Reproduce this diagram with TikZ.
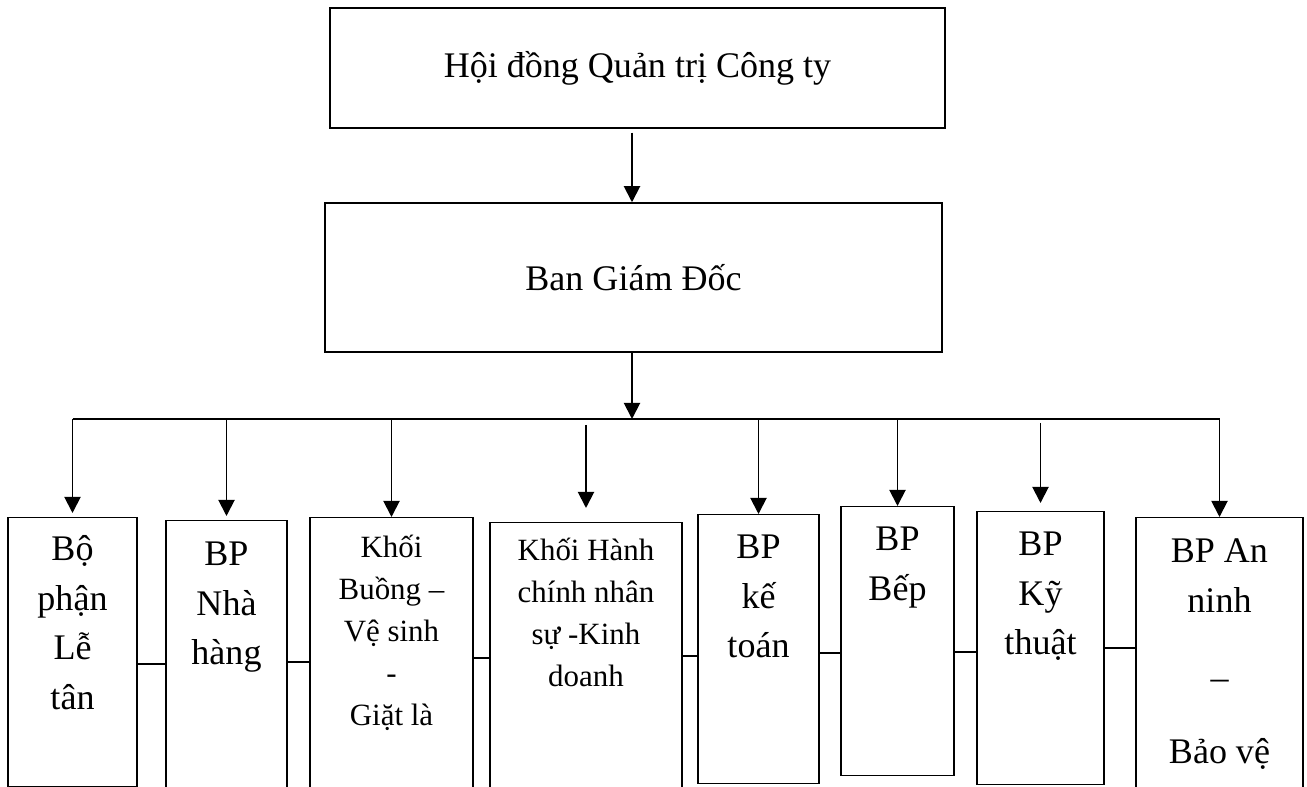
\documentclass[tikz,border=0pt]{standalone}
\usepackage{fontspec}
\setmainfont{Liberation Serif}
\usepackage{tikz}
\usetikzlibrary{positioning}
\usetikzlibrary{arrows.meta}

\begin{document}
\begin{tikzpicture}
                [board/.style = {draw, line width=0.85pt, font=\fontsize{20.5}{28.2}\selectfont},
                 unit/.style = {draw, line width=0.85pt, inner sep=0pt, anchor=north, align=flush center,
                                text height=0.88cm, font=\fontsize{20.5}{28.2}\selectfont},
                 small/.style = {font=\fontsize{17.6}{23.9}\selectfont},
                 arr/.style = {line width=1.1pt, -{Triangle[length=0.32cm, width=0.32cm]}},
                 link/.style = {line width=0.85pt}]

                \useasboundingbox (0,0) rectangle (26.14,-15.74);

                \node[board, minimum width=12.3cm, minimum height=2.4cm] (hd) at (12.75,-1.36) {Hội đồng Quản trị Công ty};
                \node[board, minimum width=12.34cm, minimum height=2.98cm] (bgd) at (12.67,-5.55) {Ban Giám Đốc};
                \coordinate (bus) at (12.64,-8.38);

                \node[unit, text width=2.58cm, text height=0.86cm, text depth=4.52cm] (lt) at (1.45,-10.34) {Bộ\\phận\\Lễ\\tân};
                \node[unit, text width=2.42cm, text height=0.9cm, text depth=4.7cm] (nh) at (4.53,-10.40) {BP\\Nhà\\hàng};
                \node[unit, small, text width=3.26cm, text height=0.8cm, text depth=4.86cm] (bu) at (7.83,-10.34) {Khối\\Buồng –\\Vệ sinh\\-\\ Giặt là};
                \node[unit, small, text width=3.84cm, text height=0.76cm, text depth=4.8cm] (hc) at (11.72,-10.44) {Khối Hành\\chính nhân\\sự -Kinh\\doanh};
                \node[unit, text width=2.42cm, text depth=4.5cm] (kt) at (15.17,-10.28) {BP\\kế\\toán};
                \node[unit, text width=2.26cm, text depth=4.5cm] (bep) at (17.95,-10.12) {BP\\Bếp};
                \node[unit, text width=2.54cm, text depth=4.58cm] (kth) at (20.81,-10.22) {BP\\Kỹ\\thuật};
                \node[unit, text width=3.34cm, text height=0.9cm, text depth=4.76cm] (an) at (24.39,-10.34) {BP An\\ninh\\[0.55cm]–\\[0.5cm]Bảo vệ};

                \draw[arr, shorten <=0.08cm] (hd.south -| bus) -- (bgd.north -| bus);
                \draw[arr] (bgd.south -| bus) -- (bus);
                \draw[line width=1.1pt] (lt |- bus) -- (an |- bus);

                \draw[arr, shorten >=0.08cm] (lt |- bus) -- (lt.north);
                \draw[arr, shorten >=0.08cm] (nh |- bus) -- (nh.north);
                \draw[arr] (bu |- bus) -- (bu.north);
                \draw[arr, shorten <=0.12cm, shorten >=0.28cm] (hc |- bus) -- (hc.north);
                \draw[arr] (kt |- bus) -- (kt.north);
                \draw[arr] (bep |- bus) -- (bep.north);
                \draw[arr, shorten <=0.08cm, shorten >=0.16cm] (kth |- bus) -- (kth.north);
                \draw[arr] (an |- bus) -- (an.north);

                \draw[link] (lt.east |- 0,-13.28) -- (nh.west |- 0,-13.28);
                \draw[link] (nh.east |- 0,-13.24) -- (bu.west |- 0,-13.24);
                \draw[link] (bu.east |- 0,-13.16) -- (hc.west |- 0,-13.16);
                \draw[link] (hc.east |- 0,-13.12) -- (kt.west |- 0,-13.12);
                \draw[link] (kt.east |- 0,-13.06) -- (bep.west |- 0,-13.06);
                \draw[link] (bep.east |- 0,-13.04) -- (kth.west |- 0,-13.04);
                \draw[link] (kth.east |- 0,-12.96) -- (an.west |- 0,-12.96);

            \end{tikzpicture}
\end{document}
